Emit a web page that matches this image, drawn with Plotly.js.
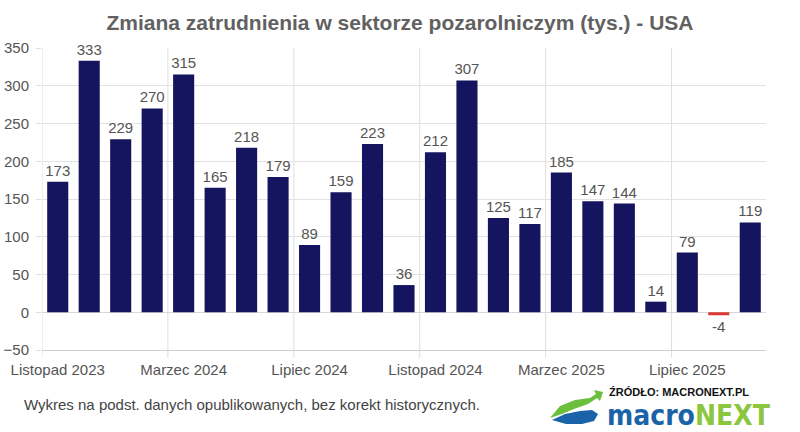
<!DOCTYPE html>
<html>
<head>
<meta charset="utf-8">
<script src="https://cdn.plot.ly/plotly-3.0.1.min.js"></script>
<style>html,body{margin:0;padding:0;background:#fff;}#chart{width:800px;height:432px;}</style>
</head>
<body>
<div id="chart"></div>
<script>
const months = ["Listopad 2023","Grudzień 2023","Styczeń 2024","Luty 2024","Marzec 2024","Kwiecień 2024","Maj 2024","Czerwiec 2024","Lipiec 2024","Sierpień 2024","Wrzesień 2024","Październik 2024","Listopad 2024","Grudzień 2024","Styczeń 2025","Luty 2025","Marzec 2025","Kwiecień 2025","Maj 2025","Czerwiec 2025","Lipiec 2025","Sierpień 2025","Wrzesień 2025"];
const values = [173,333,229,270,315,165,218,179,89,159,223,36,212,307,125,117,185,147,144,14,79,-4,119];
const tickLabels = ["Listopad 2023","Marzec 2024","Lipiec 2024","Listopad 2024","Marzec 2025","Lipiec 2025"];
const gridBounds = [-0.5, 3.5, 7.5, 11.5, 15.5, 19.5];
const yTicks = [-50,0,50,100,150,200,250,300,350];

const POS = "#15145e", NEG = "#d93a33";
const font = "Liberation Sans, Arial, sans-serif";

// paper coordinates helpers for logo (plot area 42..766 x 48..350 px)
const px = v => (v - 42) / 724;
const py = v => (350 - v) / 302;

const trace = {
  type: "bar",
  x: months,
  y: values,
  marker: {color: values.map(v => v < 0 ? NEG : POS)},
  text: values.map(String),
  textposition: "outside",
  textfont: {family: font, size: 15, color: "#555"},
  constraintext: "none",
  cliponaxis: false,
  hoverinfo: "x+y"
};

function pth(pts){ return pts.map((p,i)=>(i?"L":"M")+px(p[0]).toFixed(4)+","+py(p[1]).toFixed(4)).join(" ")+" Z"; }

const gridShapes = gridBounds.map(b => ({
  type: "line", xref: "x", yref: "paper", x0: b, x1: b, y0: -8/302, y1: 1,
  line: {color: "#dedede", width: 1}, layer: "below"
}));

const layout = {
  width: 800, height: 432,
  margin: {l: 42, r: 34, t: 48, b: 82},
  paper_bgcolor: "#fff", plot_bgcolor: "#fff",
  bargap: 0.33,
  showlegend: false,
  font: {family: font, color: "#555"},
  title: {text: "<b>Zmiana zatrudnienia w sektorze pozarolniczym (tys.) - USA</b>", x: 0.5, xanchor: "center", y: 0.947, yanchor: "middle",
          font: {family: font, size: 21, color: "#616161"}},
  xaxis: {
    type: "category",
    range: [-0.5, 22.5],
    tickmode: "array", tickvals: tickLabels, ticktext: tickLabels,
    tickangle: 0,
    showgrid: false,
    ticks: "",
    ticklabelstandoff: 6,
    tickfont: {family: font, size: 15, color: "#555"},
    showline: true, linecolor: "#d0d0d0", linewidth: 1,
    zeroline: false
  },
  yaxis: {
    range: [-50, 350],
    tickmode: "array", tickvals: yTicks,
    showgrid: true, gridcolor: "#e2e2e2", gridwidth: 1,
    zeroline: true, zerolinecolor: "#d8d8d8", zerolinewidth: 1,
    ticks: "outside", ticklen: 5, tickcolor: "#dedede",
    ticklabelstandoff: 4,
    tickfont: {family: font, size: 15, color: "#555"}
  },
  annotations: [
    {text: "Wykres na podst. danych opublikowanych, bez korekt historycznych.", xref: "paper", yref: "paper",
     x: px(22), y: py(404), xanchor: "left", yanchor: "middle", showarrow: false,
     font: {family: font, size: 15, color: "#444"}},
    {text: "<b>ŹRÓDŁO: MACRONEXT.PL</b>", xref: "paper", yref: "paper",
     x: px(607), y: py(392), xanchor: "left", yanchor: "middle", showarrow: false,
     font: {family: font, size: 11, color: "#111"}},
    {text: "<b><span style=\"color:#1b63a8\">macro</span><span style=\"color:#8cc63f\">NEXT</span></b>", xref: "paper", yref: "paper",
     x: px(605), y: py(415), xanchor: "left", yanchor: "middle", showarrow: false,
     font: {family: "Liberation Sans Narrow, DejaVu Sans Condensed, sans-serif", size: 28, color: "#1b63a8"}}
  ],
  shapes: gridShapes.concat([
    {type: "path", xref: "paper", yref: "paper", path: pth([[550,418],[560,406],[575,400],[590,398],[596,394],[594,390],[603,392],[600,401],[597,398],[588,404],[574,409],[562,414]]),
     fillcolor: "#6cbf3c", line: {width: 0}},
    {type: "path", xref: "paper", yref: "paper", path: pth([[552,420],[565,414],[580,411],[592,410],[598,414],[594,421],[582,424],[566,424]]),
     fillcolor: "#1b63a8", line: {width: 0}}
  ])
};

Plotly.newPlot("chart", [trace], layout, {displayModeBar: false, staticPlot: true});
</script>
</body>
</html>
